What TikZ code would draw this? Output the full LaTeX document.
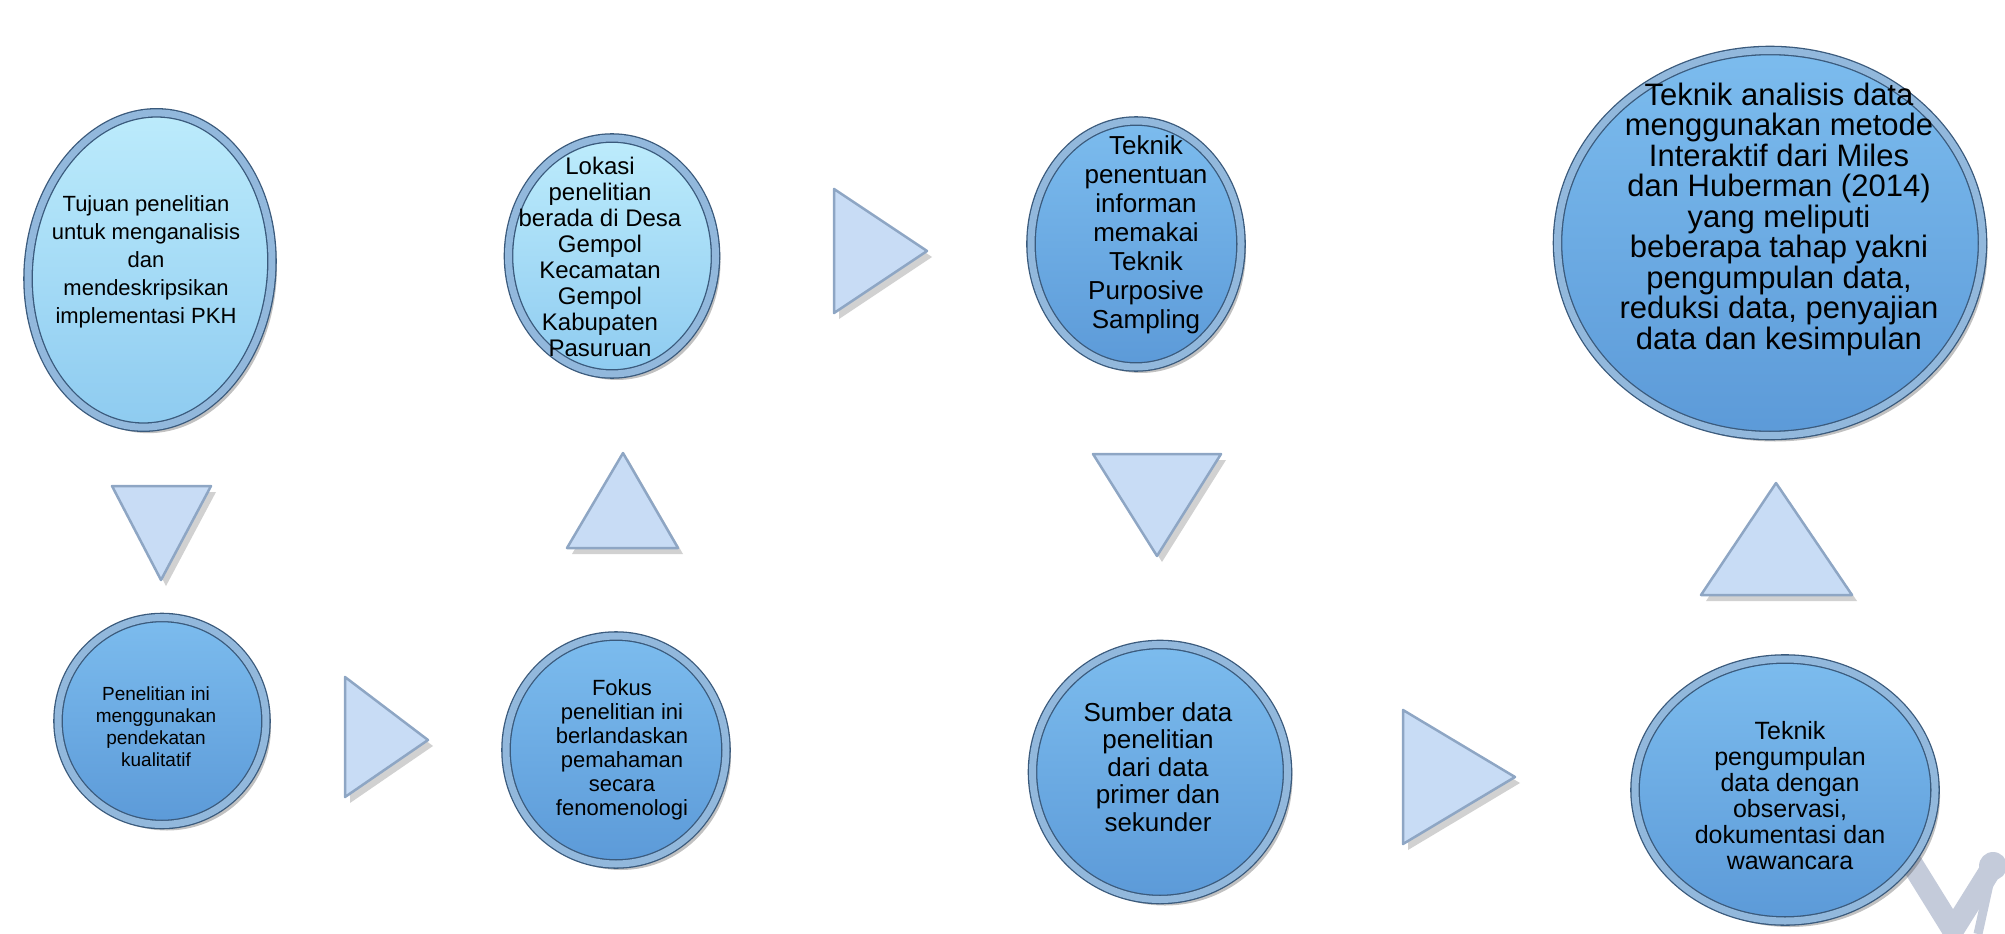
\documentclass[tikz,border=0pt]{standalone}
\usepackage{fontspec}
\setmainfont{Liberation Sans}
\usepackage{xcolor}
\usepackage{tikz}
\usetikzlibrary{shapes,arrows}
\usetikzlibrary{positioning}
\usetikzlibrary{shadows}

\definecolor{lighttop}{HTML}{BDECFC}
\definecolor{lightbot}{HTML}{8ECBF0}
\definecolor{bluetop}{HTML}{7CBCEE}
\definecolor{bluebot}{HTML}{5C9AD8}
\definecolor{rimlight}{HTML}{92B8DC}
\definecolor{rimdark}{HTML}{3A5A7C}
\definecolor{trifill}{HTML}{C8DCF5}
\definecolor{triedge}{HTML}{8EA6C4}
\definecolor{markgray}{HTML}{C4CBDA}

\tikzset{
  disc/.style={ellipse,draw=rimdark,line width=1.3pt,double=rimlight,double distance=7pt,
    inner sep=0pt,drop shadow={shadow xshift=5pt,shadow yshift=-6pt,opacity=.35,fill=black!70}},
  lightdisc/.style={disc,top color=lighttop,bottom color=lightbot},
  bluedisc/.style={disc,top color=bluetop,bottom color=bluebot},
  txt/.style={align=center,text=black,inner sep=0pt},
  tri/.style={fill=trifill,draw=triedge,line width=2.5pt,line join=round,
    drop shadow={shadow xshift=5pt,shadow yshift=-6pt,opacity=.3,fill=black!60}}
}

\begin{document}
\begin{tikzpicture}[x=1pt,y=-1pt]
        \useasboundingbox (0,0) rectangle (2005,934);
        % logo fragment behind the last disc
        \draw[markgray,line width=22pt] (1860,780) -- (1953,930) -- (1993,866);
        \draw[markgray,line width=9pt] (1993,866) -- (1978,934);
        \fill[markgray] (1993,866) circle (14);

        \node[lightdisc,minimum width=243,minimum height=315,rotate=-6] (tujuan) at (150,270) {};
        \node[txt,font=\fontsize{22}{28}\selectfont] (tujuanTxt) at (146,262)
            {Tujuan penelitian\\untuk menganalisis\\dan\\mendeskripsikan\\implementasi PKH};

        \node[bluedisc,minimum width=208,minimum height=207] (metode) at (162,721) {};
        \node[txt,font=\fontsize{19}{22}\selectfont] (metodeTxt) at (156,727)
            {Penelitian ini\\menggunakan\\pendekatan\\kualitatif};

        \node[bluedisc,minimum width=220,minimum height=228] (fokus) at (616,750) {};
        \node[txt,font=\fontsize{22}{24}\selectfont] (fokusTxt) at (622,750)
            {Fokus\\penelitian ini\\berlandaskan\\pemahaman\\secara\\fenomenologi};

        \node[lightdisc,minimum width=207,minimum height=236] (lokasi) at (612,256) {};
        \node[txt,font=\fontsize{24}{26}\selectfont] (lokasiTxt) at (600,257)
            {Lokasi\\penelitian\\berada di Desa\\Gempol\\Kecamatan\\Gempol\\Kabupaten\\Pasuruan};

        \node[bluedisc,minimum width=210,minimum height=246] (informan) at (1136,244) {};
        \node[txt,font=\fontsize{26}{29}\selectfont] (informanTxt) at (1146,235)
            {Teknik\\penentuan\\informan\\memakai\\Teknik\\Purposive\\Sampling};

        \node[bluedisc,minimum width=255,minimum height=255] (sumber) at (1160,772) {};
        \node[txt,font=\fontsize{26}{27.5}\selectfont] (sumberTxt) at (1158,767)
            {Sumber data\\penelitian\\dari data\\primer dan\\sekunder};

        \node[bluedisc,minimum width=300,minimum height=262] (kumpul) at (1785,790) {};
        \node[txt,font=\fontsize{25}{26}\selectfont] (kumpulTxt) at (1790,796)
            {Teknik\\pengumpulan\\data dengan\\observasi,\\dokumentasi dan\\wawancara};

        \node[bluedisc,minimum width=425,minimum height=385] (analisis) at (1770,243) {};
        \node[txt,font=\fontsize{31}{30.5}\selectfont] (analisisTxt) at (1779,219)
            {Teknik analisis data\\menggunakan metode\\Interaktif dari Miles\\dan Huberman (2014)\\yang meliputi\\beberapa tahap yakni\\pengumpulan data,\\reduksi data, penyajian\\data dan kesimpulan};

        % arrows between the steps
        \filldraw[tri] (112,486) -- (211,486) -- (161,580) -- cycle;
        \filldraw[tri] (345,677) -- (428,740) -- (345,797) -- cycle;
        \filldraw[tri] (567,548) -- (623,453) -- (678,548) -- cycle;
        \filldraw[tri] (834,189) -- (927,251) -- (834,313) -- cycle;
        \filldraw[tri] (1093,454) -- (1221,454) -- (1157,556) -- cycle;
        \filldraw[tri] (1403,710) -- (1515,777) -- (1403,844) -- cycle;
        \filldraw[tri] (1701,595) -- (1776,483) -- (1852,595) -- cycle;
    \end{tikzpicture}
\end{document}
